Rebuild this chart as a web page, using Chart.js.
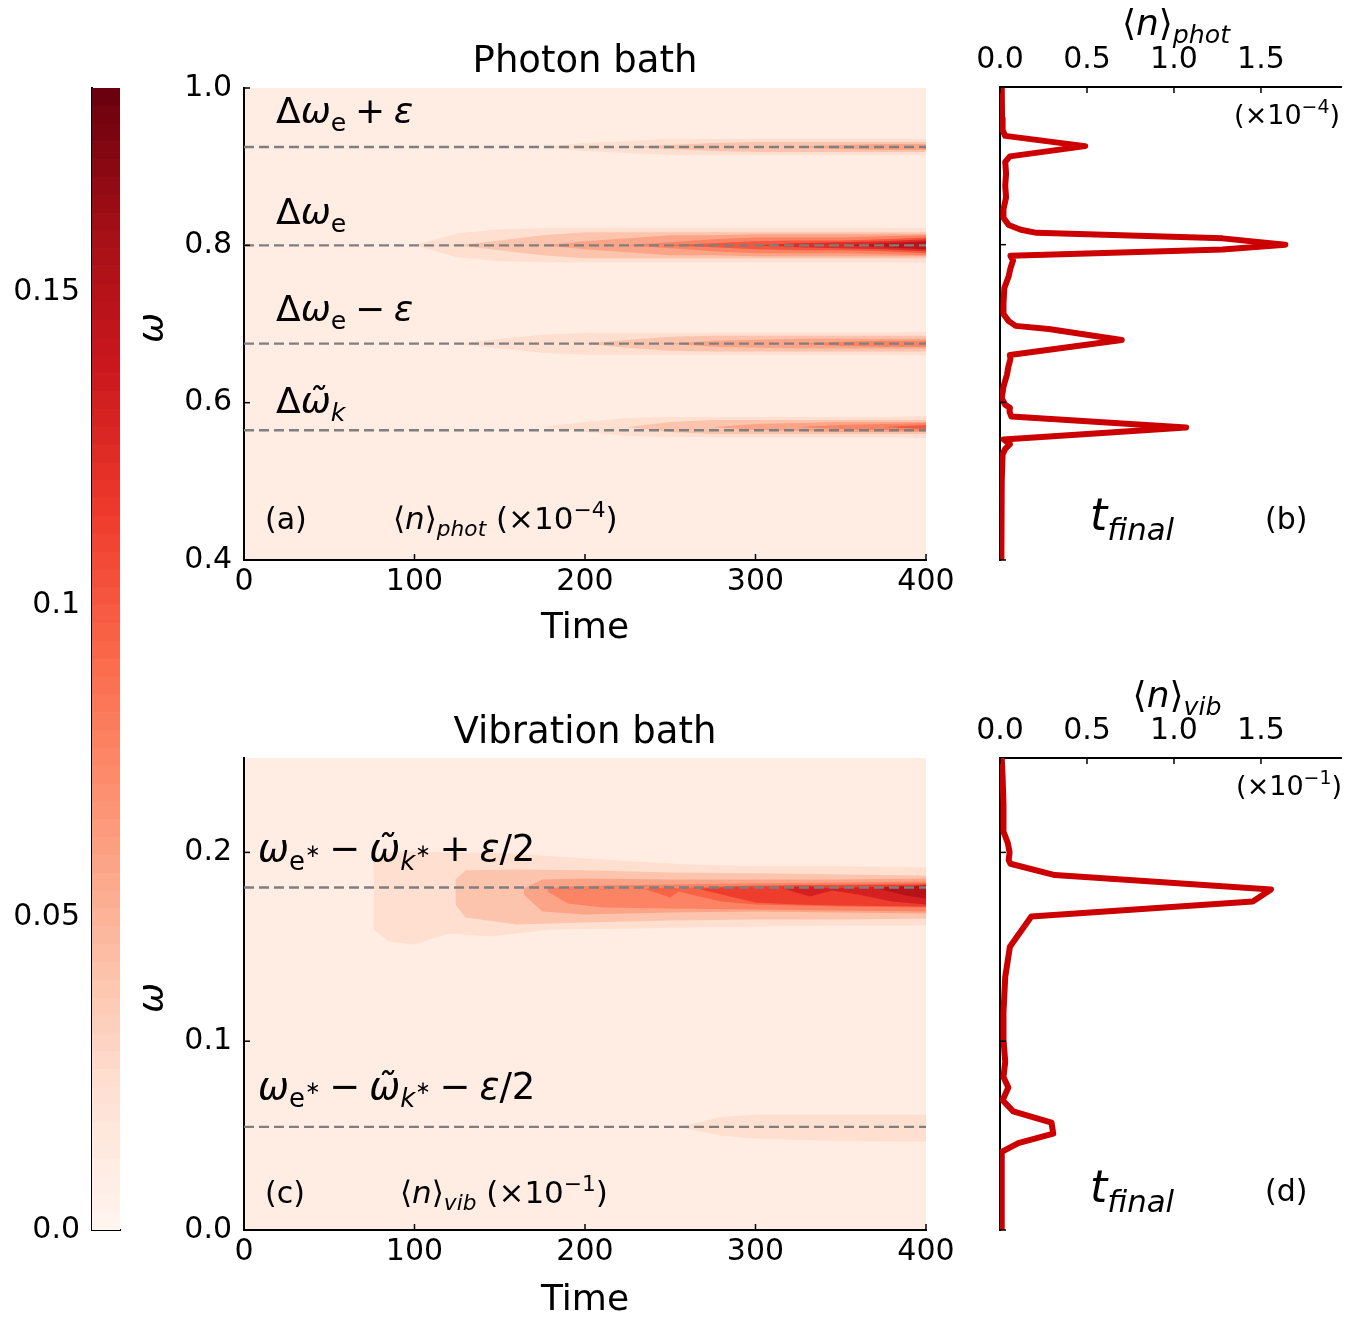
<!DOCTYPE html>
<html>
<head>
<meta charset="utf-8">
<script src="https://cdn.jsdelivr.net/npm/chart.js@4.4.0/dist/chart.umd.min.js"></script>
<style>
  body { margin: 0; background: #fff; }
  #wrap { position: relative; width: 1372px; height: 1318px; }
  #wrap canvas { position: absolute; left: 0; top: 0; }
</style>
</head>
<body>
<div id="wrap">
  <canvas id="cbar" width="1372" height="1318"></canvas>
  <canvas id="photMap" width="1372" height="1318"></canvas>
  <canvas id="photEnd" width="1372" height="1318"></canvas>
  <canvas id="vibMap" width="1372" height="1318"></canvas>
  <canvas id="vibEnd" width="1372" height="1318"></canvas>
</div>
<script>
// ---------- data ----------

// colour bar
var cbMax = 0.1827
var cbSteps = 64

// time axis of the two maps
var timeGrid = [0, 25, 50, 75, 100, 125, 150, 175, 200, 225, 250, 275, 300, 325, 350, 375, 400]

// (a) photon bath: dashed lines and contour half widths (omega units) on timeGrid
var photLines = [0.925, 0.80, 0.675, 0.565]
var photCenters = [0.925, 0.80, 0.675, 0.569]
var photLevels = [0.13, 0.22, 0.32, 0.42, 0.55, 0.68, 0.80]
var band925 = [
  [0,0,0,0,0,0,0,0,.0051,.0076,.0101,.0101,.0101,.0101,.0101,.0101,.0101],
  [0,0,0,0,0,0,0,0,0,0,.0025,.0051,.0063,.0063,.0063,.0063,.0063],
  [0,0,0,0,0,0,0,0,0,0,0,0,0,0,.0025,.0038,.0038]
]
var band800 = [
  [0,0,0,0,0,.0152,.0203,.0216,.0216,.0216,.0216,.0216,.0216,.0216,.0216,.0216,.0222],
  [0,0,0,0,0,0,.0063,.0127,.0165,.0165,.0165,.0165,.0165,.0165,.0165,.0165,.0165],
  [0,0,0,0,0,0,0,0,.0051,.0089,.0127,.0127,.0140,.0140,.0140,.0140,.0140],
  [0,0,0,0,0,0,0,0,0,0,.0038,.0076,.0101,.0101,.0101,.0114,.0127],
  [0,0,0,0,0,0,0,0,0,0,0,.0025,.0051,.0063,.0063,.0076,.0101],
  [0,0,0,0,0,0,0,0,0,0,0,0,0,.0025,.0038,.0051,.0076],
  [0,0,0,0,0,0,0,0,0,0,0,0,0,0,0,.0025,.0051]
]
var band675 = [
  [0,0,0,0,0,0,.0063,.0114,.0140,.0140,.0140,.0140,.0140,.0140,.0140,.0140,.0152],
  [0,0,0,0,0,0,0,0,0,.0051,.0089,.0101,.0101,.0101,.0101,.0101,.0101],
  [0,0,0,0,0,0,0,0,0,0,0,.0038,.0051,.0063,.0063,.0063,.0063],
  [0,0,0,0,0,0,0,0,0,0,0,0,0,0,.0025,.0038,.0038]
]
var band565 = [
  [0,0,0,0,0,0,0,0,.0063,.0114,.0127,.0127,.0127,.0127,.0127,.0127,.0140],
  [0,0,0,0,0,0,0,0,0,0,.0063,.0089,.0089,.0089,.0089,.0089,.0089],
  [0,0,0,0,0,0,0,0,0,0,0,0,.0038,.0051,.0063,.0063,.0063],
  [0,0,0,0,0,0,0,0,0,0,0,0,0,0,.0025,.0038,.0051],
  [0,0,0,0,0,0,0,0,0,0,0,0,0,0,0,0,.0025]
]

// (c) vibration bath: dashed lines and contour edges (upper / lower omega)
var vibLines = [0.1814, 0.0546]
var vibLevels = [0.13, 0.22, 0.32, 0.42, 0.52, 0.62, 0.72, 0.82]
var vibBandT = [
  [76, 85, 100, 120, 145, 180, 230, 260, 300, 350, 400],
  [124, 130, 160, 200, 250, 300, 350, 400],
  [164, 175, 200, 250, 300, 350, 400],
  [178, 190, 210, 250, 300, 350, 400],
  [236, 250, 255, 262, 280, 300, 350, 400],
  [268, 290, 300, 325, 350, 400],
  [316, 332, 345, 360, 380, 400],
  [372, 388, 400]
]
var vibBandHi = [
  [.1963, .2000, .2005, .2000, .2000, .1979, .1952, .1936, .1926, .1926, .1920],
  [.1857, .1905, .1910, .1905, .1894, .1889, .1883, .1878],
  [.1809, .1857, .1862, .1857, .1857, .1857, .1862],
  [.1809, .1820, .1825, .1830, .1836, .1841, .1846],
  [.1809, .1814, .1809, .1814, .1820, .1825, .1830, .1836],
  [.1809, .1820, .1820, .1825, .1825, .1830],
  [.1814, .1820, .1809, .1814, .1820, .1825],
  [.1814, .1820, .1825]
]
var vibBandLo = [
  [.1592, .1528, .1512, .1570, .1554, .1592, .1597, .1602, .1607, .1613, .1613],
  [.1724, .1655, .1618, .1629, .1639, .1645, .1645, .1650],
  [.1777, .1687, .1671, .1682, .1687, .1682, .1676],
  [.1793, .1729, .1708, .1703, .1698, .1692, .1687],
  [.1804, .1761, .1793, .1777, .1740, .1724, .1714, .1708],
  [.1804, .1756, .1735, .1724, .1719, .1714],
  [.1809, .1767, .1798, .1777, .1740, .1724],
  [.1809, .1772, .1756]
]
var vibLowT = [258, 280, 300, 350, 400]
var vibLowHi = [.0552, .0599, .0610, .0610, .0610]
var vibLowLo = [.0541, .0499, .0483, .0472, .0467]

// (b) final photon occupation vs omega (x10^-4)
var photOmega = [1.000, 0.960, 0.945, 0.938, 0.925, 0.912, 0.905, 0.890, 0.875, 0.860, 0.845, 0.834,
  0.825, 0.819, 0.815, 0.808, 0.800, 0.794, 0.786, 0.780, 0.770, 0.760, 0.745, 0.725, 0.712,
  0.703, 0.697, 0.693, 0.679, 0.660, 0.655, 0.645, 0.635, 0.620, 0.605, 0.597, 0.593, 0.588,
  0.582, 0.568, 0.553, 0.547, 0.541, 0.534, 0.500, 0.450, 0.400]
var photFinal = [0.010, 0.012, 0.015, 0.030, 0.490, 0.057, 0.030, 0.035, 0.030, 0.035, 0.020, 0.020,
  0.050, 0.120, 0.210, 1.280, 1.640, 1.280, 0.060, 0.075, 0.060, 0.050, 0.025, 0.020, 0.020,
  0.050, 0.090, 0.280, 0.700, 0.057, 0.060, 0.048, 0.040, 0.020, 0.010, 0.030, 0.057, 0.055,
  0.065, 1.070, 0.020, 0.057, 0.030, 0.015, 0.010, 0.008, 0.008]

// (d) final vibration occupation vs omega (x10^-1)
var vibOmega = [0.250, 0.240, 0.225, 0.211, 0.205, 0.200, 0.196, 0.194, 0.188, 0.1804, 0.174, 0.166,
  0.150, 0.134, 0.115, 0.101, 0.089, 0.081, 0.0755, 0.0687, 0.0628, 0.0569, 0.051, 0.046, 0.0414,
  0.020, 0.000]
var vibFinal = [0.010, 0.015, 0.020, 0.020, 0.045, 0.055, 0.050, 0.060, 0.315, 1.558, 1.453, 0.180,
  0.057, 0.030, 0.020, 0.020, 0.030, 0.020, 0.048, 0.015, 0.076, 0.296, 0.306, 0.105, 0.010,
  0.010, 0.010]
var nMax = 1.96

// ---------- helpers ----------
Chart.defaults.font.family = "'DejaVu Sans', sans-serif"
Chart.defaults.font.size = 30
Chart.defaults.color = '#000'
Chart.defaults.animation = false

var redsNodes = [[255,245,240],[254,224,210],[252,187,161],[252,146,114],[251,106,74],
  [239,59,44],[203,24,29],[165,15,21],[103,0,13]]
function reds(f) {
  var p = Math.max(0, Math.min(1, f)) * 8
  var i = Math.min(7, Math.floor(p)), r = p - i
  var a = redsNodes[i], b = redsNodes[i + 1]
  return 'rgb(' + [0,1,2].map(function(k) { return Math.round(a[k] + (b[k] - a[k]) * r) }).join(',') + ')'
}

function it(s) { return [s, 1] }
function sub(s, ital) { return [s, ital ? 1 : 0, 0.7, 0.22] }
function sup(s) { return [s, 0, 0.7, -0.4] }
var star = ['\u2217', 0, 0.5, -0.12]

function drawParts(ctx, parts, size, align) {
  ctx.fillStyle = '#000'
  ctx.textBaseline = 'alphabetic'
  ctx.textAlign = 'left'
  var items = parts.map(function(p) {
    if (typeof p === 'number') return { gap: p * size }
    if (typeof p === 'string') p = [p]
    var font = (p[1] ? 'italic ' : '') + (size * (p[2] || 1)) + "px 'DejaVu Sans'"
    ctx.font = font
    return { t: p[0], font: font, w: ctx.measureText(p[0]).width, dy: (p[3] || 0) * size }
  })
  var total = 0
  items.forEach(function(q) { total += q.gap || q.w })
  var cx = align === 'center' ? -total / 2 : align === 'right' ? -total : 0
  items.forEach(function(q) {
    if (q.gap) { cx += q.gap; return }
    ctx.font = q.font
    ctx.fillText(q.t, cx, q.dy)
    cx += q.w
  })
}

var mathText = {
  id: 'mathText',
  afterDraw: function(chart, args, opts) {
    var ctx = chart.ctx, a = chart.chartArea
    ;(opts.items || []).forEach(function(t) {
      var x, y
      if (t.data) {
        x = chart.scales.x.getPixelForValue(t.data[0])
        y = chart.scales.y.getPixelForValue(t.data[1])
      } else {
        x = (t.ax === 'mid' ? (a.left + a.right) / 2 : t.ax === 'right' ? a.right : a.left) + (t.dx || 0)
        y = (t.ay === 'mid' ? (a.top + a.bottom) / 2 : t.ay === 'bottom' ? a.bottom : a.top) + (t.dy || 0)
      }
      ctx.save()
      ctx.translate(x, y)
      if (t.rot) ctx.rotate(t.rot)
      drawParts(ctx, t.parts, t.size || 36, t.align || 'left')
      ctx.restore()
    })
  }
}

var mapBg = {
  id: 'mapBg',
  beforeDraw: function(chart, args, opts) {
    if (!opts.color) return
    var a = chart.chartArea, ctx = chart.ctx
    ctx.save()
    ctx.fillStyle = opts.color
    ctx.fillRect(a.left, a.top, a.right - a.left, a.bottom - a.top)
    ctx.restore()
  }
}

// ticks pointing into the axes, like the matplotlib style of the figure
var inTicks = {
  id: 'inTicks',
  afterDraw: function(chart, args, opts) {
    if (!opts.len) return
    var ctx = chart.ctx, len = opts.len
    ctx.save()
    ctx.strokeStyle = '#000'
    ctx.lineWidth = 1.5
    Object.keys(chart.scales).forEach(function(id) {
      var s = chart.scales[id]
      s.ticks.forEach(function(t, i) {
        var p = s.getPixelForTick(i)
        ctx.beginPath()
        if (s.position === 'bottom') { ctx.moveTo(p, s.top); ctx.lineTo(p, s.top - len) }
        else if (s.position === 'top') { ctx.moveTo(p, s.bottom); ctx.lineTo(p, s.bottom + len) }
        else { ctx.moveTo(s.right, p); ctx.lineTo(s.right + len, p) }
        ctx.stroke()
      })
    })
    ctx.restore()
  }
}

function lineSets(levels) {
  return levels.map(function(v) {
    return {
      data: [{ x: 0, y: v }, { x: 400, y: v }],
      borderColor: '#7f7f7f', borderWidth: 2.4, borderDash: [10, 5],
      pointRadius: 0, fill: false, order: -10
    }
  })
}

// each contour level = lower edge dataset + upper edge dataset filled down to it
function addRegion(list, t, hi, lo, colour, level) {
  var low = list.length
  list.push({
    data: t.map(function(x, i) { return { x: x, y: lo[i] } }),
    borderWidth: 0, borderColor: 'transparent', pointRadius: 0, fill: false, order: 200
  })
  list.push({
    data: t.map(function(x, i) { return { x: x, y: hi[i] } }),
    borderWidth: 0, borderColor: 'transparent', pointRadius: 0,
    fill: low, backgroundColor: colour, order: 100 - level
  })
}

function addBand(list, center, widths, levels) {
  widths.forEach(function(hw, k) {
    var i0 = 0
    while (i0 < hw.length && !(hw[i0] > 0)) i0++
    if (i0 > 0) i0--
    var t = timeGrid.slice(i0), w = hw.slice(i0)
    addRegion(list, t, w.map(function(h) { return center + h }), w.map(function(h) { return center - h }),
      reds(levels[k]), k)
  })
}

function mapConfig(datasets, yMin, yMax, yStep, pad, texts) {
  return {
    type: 'line',
    data: { datasets: datasets },
    plugins: [mapBg, inTicks, mathText],
    options: {
      responsive: false, animation: false, events: [],
      layout: { padding: pad },
      plugins: {
        legend: { display: false }, tooltip: { enabled: false }, colors: { enabled: false },
        mapBg: { color: reds(0.05) }, inTicks: { len: 6 }, mathText: { items: texts }
      },
      scales: {
        x: {
          type: 'linear', min: 0, max: 400, z: 1,
          afterFit: function(s) { s.height = 60 },
          grid: { display: false, drawTicks: false },
          border: { display: true, color: '#000', width: 2 },
          ticks: { stepSize: 100, padding: 4, maxRotation: 0, callback: function(v) { return String(v) } }
        },
        y: {
          type: 'linear', min: yMin, max: yMax, z: 1,
          afterFit: function(s) { s.width = 100 },
          grid: { display: false, drawTicks: false },
          border: { display: true, color: '#000', width: 2 },
          ticks: { stepSize: yStep, includeBounds: false, padding: 12, callback: function(v) { return v.toFixed(1) } }
        }
      }
    }
  }
}

function endConfig(omega, vals, yMin, yMax, yStep, pad, texts) {
  return {
    type: 'line',
    data: {
      datasets: [{
        data: omega.map(function(w, i) { return { x: vals[i], y: w } }),
        borderColor: '#cc0000', borderWidth: 6, pointRadius: 0, fill: false,
        borderJoinStyle: 'round', borderCapStyle: 'round'
      }]
    },
    plugins: [inTicks, mathText],
    options: {
      responsive: false, animation: false, events: [],
      layout: { padding: pad },
      plugins: {
        legend: { display: false }, tooltip: { enabled: false }, colors: { enabled: false },
        inTicks: { len: 6 }, mathText: { items: texts }
      },
      scales: {
        x: {
          type: 'linear', position: 'top', min: 0, max: nMax,
          afterFit: function(s) { s.height = 70 },
          grid: { display: false, drawTicks: false },
          border: { display: true, color: '#000', width: 2 },
          ticks: { stepSize: 0.5, includeBounds: false, padding: 9, maxRotation: 0,
            callback: function(v) { return v.toFixed(1) } }
        },
        y: {
          type: 'linear', min: yMin, max: yMax,
          afterFit: function(s) { s.width = 10 },
          grid: { display: false, drawTicks: false },
          border: { display: true, color: '#000', width: 2 },
          ticks: { display: false, stepSize: yStep, includeBounds: false }
        }
      }
    }
  }
}

// ---------- colour bar ----------
var cbSets = []
for (var k = 0; k < cbSteps; k++) {
  cbSets.push({ data: [cbMax / cbSteps], backgroundColor: reds((k + 0.5) / cbSteps),
    borderWidth: 0, barPercentage: 1, categoryPercentage: 1 })
}
new Chart(document.getElementById('cbar'), {
  type: 'bar',
  data: { labels: ['n'], datasets: cbSets },
  options: {
    responsive: false, animation: false, events: [],
    layout: { padding: { left: 2, right: 1252, top: 88, bottom: 88 } },
    plugins: { legend: { display: false }, tooltip: { enabled: false }, colors: { enabled: false } },
    scales: {
      x: { stacked: true, afterFit: function(s) { s.height = 0 }, ticks: { display: false },
        grid: { display: false }, border: { display: true, color: '#000', width: 2 } },
      y: { stacked: true, min: 0, max: cbMax, afterFit: function(s) { s.width = 90 },
        grid: { display: false, drawTicks: false }, border: { display: true, color: '#000', width: 2 },
        ticks: { stepSize: 0.05, includeBounds: false, padding: 12,
          callback: function(v) { return v === 0 ? '0.0' : String(v) } } }
    }
  }
})

// ---------- (a) photon bath ----------
var photSets = lineSets(photLines)
addBand(photSets, photCenters[0], band925, photLevels)
addBand(photSets, photCenters[1], band800, photLevels)
addBand(photSets, photCenters[2], band675, photLevels)
addBand(photSets, photCenters[3], band565, photLevels)

new Chart(document.getElementById('photMap'), mapConfig(photSets, 0.4, 1.0, 0.2,
  { left: 144, right: 446, top: 88, bottom: 698 }, [
    { data: [18.8, 0.9556], parts: ['\u0394', it('\u03c9'), sub('e'), 0.24, '+', 0.24, it('\u03b5')] },
    { data: [18.8, 0.8275], parts: ['\u0394', it('\u03c9'), sub('e')] },
    { data: [18.8, 0.7032], parts: ['\u0394', it('\u03c9'), sub('e'), 0.24, '\u2212', 0.24, it('\u03b5')] },
    { data: [18.8, 0.5865], parts: ['\u0394', it('\u03c9\u0303'), sub('k', 1)] },
    { data: [12.3, 0.4393], size: 30, parts: ['(a)'] },
    { data: [87.4, 0.4393], size: 31, parts: ['\u27e8', it('n'), '\u27e9', sub('phot', 1), ' (\u00d710', sup('\u22124'), ')'] },
    { ax: 'mid', ay: 'top', dy: -16, size: 37, align: 'center', parts: ['Photon bath'] },
    { ax: 'mid', ay: 'bottom', dy: 78, size: 36, align: 'center', parts: ['Time'] },
    { ax: 'left', ay: 'mid', dx: -81, dy: 4, size: 36, align: 'center', rot: -Math.PI / 2, parts: [it('\u03c9')] }
  ]))

// ---------- (c) vibration bath ----------
var vibSets = lineSets(vibLines)
vibBandT.forEach(function(t, k) { addRegion(vibSets, t, vibBandHi[k], vibBandLo[k], reds(vibLevels[k]), k) })
addRegion(vibSets, vibLowT, vibLowHi, vibLowLo, reds(vibLevels[0]), 0)

new Chart(document.getElementById('vibMap'), mapConfig(vibSets, 0, 0.25, 0.1,
  { left: 144, right: 446, top: 758, bottom: 28 }, [
    { data: [8.2, 0.1952], size: 37, parts: [it('\u03c9'), sub('e'), star, 0.24, '\u2212', 0.24, it('\u03c9\u0303'), sub('k', 1), star,
      0.24, '+', 0.24, it('\u03b5'), '/2'] },
    { data: [8.2, 0.0695], size: 37, parts: [it('\u03c9'), sub('e'), star, 0.24, '\u2212', 0.24, it('\u03c9\u0303'), sub('k', 1), star,
      0.24, '\u2212', 0.24, it('\u03b5'), '/2'] },
    { data: [12.3, 0.0143], size: 30, parts: ['(c)'] },
    { data: [91.5, 0.0143], size: 31, parts: ['\u27e8', it('n'), '\u27e9', sub('vib', 1), ' (\u00d710', sup('\u22121'), ')'] },
    { ax: 'mid', ay: 'top', dy: -15, size: 37, align: 'center', parts: ['Vibration bath'] },
    { ax: 'mid', ay: 'bottom', dy: 80, size: 36, align: 'center', parts: ['Time'] },
    { ax: 'left', ay: 'mid', dx: -81, dy: 4, size: 36, align: 'center', rot: -Math.PI / 2, parts: [it('\u03c9')] }
  ]))

// ---------- (b) and (d) final occupations ----------
new Chart(document.getElementById('photEnd'), endConfig(photOmega, photFinal, 0.4, 1.0, 0.2,
  { left: 990, right: 31, top: 17, bottom: 758 }, [
    { ax: 'left', ay: 'top', dx: 176, dy: -52, size: 36, align: 'center', parts: ['\u27e8', it('n'), '\u27e9', sub('phot', 1)] },
    { ax: 'right', ay: 'top', dx: -1, dy: 37, size: 27, align: 'right', parts: ['(\u00d710', sup('\u22124'), ')'] },
    { ax: 'left', ay: 'bottom', dx: 90, dy: -30, size: 44, parts: [it('t'), sub('final', 1)] },
    { ax: 'left', ay: 'bottom', dx: 265, dy: -31, size: 30, parts: ['(b)'] }
  ]))

new Chart(document.getElementById('vibEnd'), endConfig(vibOmega, vibFinal, 0, 0.25, 0.1,
  { left: 990, right: 31, top: 688, bottom: 88 }, [
    { ax: 'left', ay: 'top', dx: 177, dy: -51, size: 36, align: 'center', parts: ['\u27e8', it('n'), '\u27e9', sub('vib', 1)] },
    { ax: 'right', ay: 'top', dx: 1, dy: 37, size: 27, align: 'right', parts: ['(\u00d710', sup('\u22121'), ')'] },
    { ax: 'left', ay: 'bottom', dx: 90, dy: -28, size: 44, parts: [it('t'), sub('final', 1)] },
    { ax: 'left', ay: 'bottom', dx: 265, dy: -29, size: 30, parts: ['(d)'] }
  ]))
</script>
</body>
</html>
